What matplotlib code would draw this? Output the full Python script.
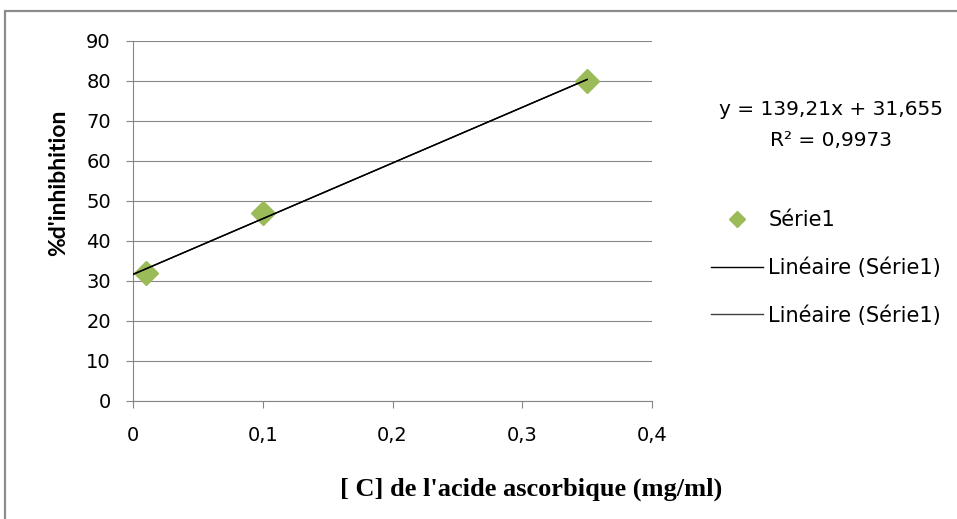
import numpy as np
import matplotlib
matplotlib.use("Agg")
from matplotlib import pyplot as plt
from matplotlib.lines import Line2D
from matplotlib.patches import Rectangle

# data
conc = [0.01, 0.1, 0.35]          # mg/ml
inhib = [32, 47, 80]              # %
x_ticks = [0, 0.1, 0.2, 0.3, 0.4]
x_tick_labels = ['0', '0,1', '0,2', '0,3', '0,4']
y_ticks = [0, 10, 20, 30, 40, 50, 60, 70, 80, 90]

green = '#9BBB59'
grid_col = '#868686'
sans = 'DejaVu Sans'

# linear fit (Excel trendline)
slope, icpt = np.polyfit(conc, inhib, 1)
pred = np.polyval([slope, icpt], conc)
r2 = 1 - np.sum((np.array(inhib) - pred) ** 2) / np.sum((np.array(inhib) - np.mean(inhib)) ** 2)
fit_x = np.array([0, max(conc)])
fit_y = slope * fit_x + icpt

W, H = 957, 519
fig = plt.figure(figsize=(W / 100, H / 100), dpi=100)
ax = fig.add_axes([133 / W, 1 - 401 / H, (652 - 133) / W, (401 - 41) / H])

# outer chart frame
fig.patches.append(Rectangle((4.5 / W, -0.1), 1.2, (1 - 11 / H) + 0.1,
                             transform=fig.transFigure, fill=False,
                             edgecolor='#8c8c8c', linewidth=1.6))

ax.plot(conc, inhib, linestyle='none', marker='D', markersize=12,
        color=green, zorder=3)
ax.plot(fit_x, fit_y, color='black', linewidth=1.0, zorder=4)
ax.plot(fit_x, fit_y, color='black', linewidth=1.0, zorder=4)

ax.set_xlim(0, 0.4)
ax.set_ylim(0, 90)
ax.set_xticks(x_ticks)
ax.set_xticklabels(x_tick_labels)
ax.set_yticks(y_ticks)

ax.yaxis.grid(True, color=grid_col, linewidth=0.8)
ax.set_axisbelow(True)
for s in ['top', 'right']:
    ax.spines[s].set_visible(False)
for s in ['left', 'bottom']:
    ax.spines[s].set_color(grid_col)
    ax.spines[s].set_linewidth(0.8)
ax.tick_params(axis='both', direction='out', length=5, width=0.8,
               color=grid_col, labelsize=14, labelcolor='black')
ax.tick_params(axis='x', pad=13)
ax.tick_params(axis='y', pad=11)
for lab in ax.get_xticklabels() + ax.get_yticklabels():
    lab.set_family(sans)

ax.set_xlabel("[ C] de l'acide ascorbique (mg/ml)", family='Liberation Serif',
              fontweight='bold', fontsize=19, va='center')
ax.xaxis.set_label_coords(531 / W, 1 - 489 / H, transform=fig.transFigure)
ax.set_ylabel("%d'inhibhition", family='Lato', fontweight='bold', fontsize=16.5)
ax.yaxis.set_label_coords(69 / W, 1 - 183 / H, transform=fig.transFigure)

# trendline equation
eq = 'y = {:.2f}x + {:.3f}'.format(slope, icpt).replace('.', ',')
fig.text(831 / W, 1 - 110 / H, eq, family=sans, fontsize=14.5,
         ha='center', va='center')
fig.text(831 / W, 1 - 140 / H, 'R² = {:.4f}'.format(r2).replace('.', ','),
         family=sans, fontsize=14.5, ha='center', va='center')

handles = [Line2D([], [], linestyle='none', marker='D', markersize=8.5, color=green),
           Line2D([], [], color='black', linewidth=1.0),
           Line2D([], [], color='#404040', linewidth=1.0)]
labels = ['Série1', 'Linéaire (Série1)', 'Linéaire (Série1)']
fig.legend(handles, labels, loc='center left', bbox_to_anchor=(711 / W, 1 - 268 / H),
           frameon=False, prop={'family': sans, 'size': 15},
           borderpad=0, borderaxespad=0,
           handlelength=2.5, handletextpad=0.25, labelspacing=1.3)

fig.savefig('out.png', dpi=100)
